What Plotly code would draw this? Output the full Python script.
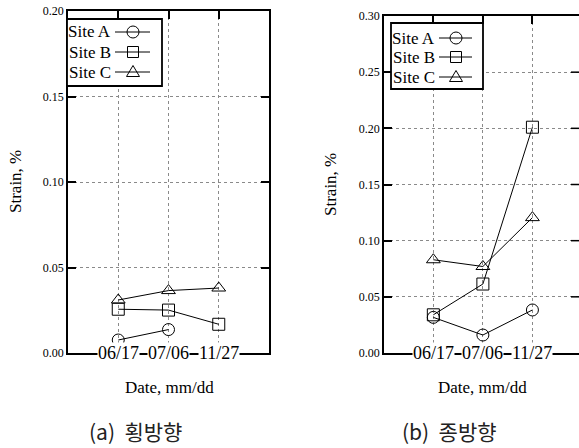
import plotly.graph_objects as go

W, H = 579, 448

dates = ["06/17", "07/06", "11/27"]
sites = ["Site A", "Site B", "Site C"]
symbols = ["circle-open", "square-open", "triangle-up-open"]

# Panel (a) 횡방향 (transverse)
a_site_a = [0.0076, 0.0137, None]
a_site_b = [0.0256, 0.0251, 0.0168]
a_site_c = [0.031, 0.0365, 0.038]

# Panel (b) 종방향 (longitudinal)
b_site_a = [0.0317, 0.0160, 0.0383]
b_site_b = [0.0340, 0.0614, 0.2010]
b_site_c = [0.0830, 0.0770, 0.1205]

a_yticks = [0.00, 0.05, 0.10, 0.15, 0.20]
b_yticks = [0.00, 0.05, 0.10, 0.15, 0.20, 0.25, 0.30]

captions = ["(a)  횡방향", "(b)  종방향"]

SERIF = "Liberation Serif, 'Times New Roman', Times, 'DejaVu Serif', serif"
KR = "'Noto Sans CJK KR', 'Noto Sans CJK SC', sans-serif"


def px(x):
    return x / W


def py(y):
    return (H - y) / H


fig = go.Figure()

panel_a = [a_site_a, a_site_b, a_site_c]
panel_b = [b_site_a, b_site_b, b_site_c]
xpos = list(range(1, len(dates) + 1))

for xa, ya, panel in (("x", "y", panel_a), ("x2", "y2", panel_b)):
    for name, sym, vals in zip(sites, symbols, panel):
        xs = [x for x, v in zip(xpos, vals) if v is not None]
        ys = [v for v in vals if v is not None]
        fig.add_trace(go.Scatter(x=xs, y=ys, mode="lines+markers", name=name,
                                 xaxis=xa, yaxis=ya, showlegend=False,
                                 line=dict(color="black", width=1),
                                 marker=dict(symbol=sym, size=12, color="black",
                                             line=dict(width=1, color="black"))))

ax_common = dict(showline=True, linecolor="black", linewidth=1.5,
                 ticks="inside", ticklen=8, tickwidth=1.5, tickcolor="black",
                 showgrid=True, gridcolor="#8a8a8a", griddash="dot", gridwidth=1,
                 zeroline=False)

ya_dom = [py(353), py(11)]
yb_dom = [py(353), py(16)]

fig.update_layout(
    width=W, height=H, autosize=False,
    margin=dict(l=0, r=0, t=0, b=0, autoexpand=False),
    paper_bgcolor="white", plot_bgcolor="white",
    xaxis=dict(domain=[px(68), px(269)], range=[0, 4], tickvals=xpos,
               showticklabels=False, mirror="ticks", anchor="y", **ax_common),
    yaxis=dict(domain=ya_dom, range=[0, 0.20], tickvals=a_yticks,
               tickformat=".2f", mirror="ticks", anchor="x", automargin=False,
               tickfont=dict(family=SERIF, size=12, color="black"), **ax_common),
    xaxis2=dict(domain=[px(383.8), 1.0], range=[0, 3.94], tickvals=xpos,
                showticklabels=False, mirror="ticks", anchor="y2", **ax_common),
    yaxis2=dict(domain=yb_dom, range=[0, 0.30], tickvals=b_yticks,
                tickformat=".2f", mirror=False, anchor="x2", automargin=False,
                tickfont=dict(family=SERIF, size=12, color="black"), **ax_common),
)

ann = []
# x tick labels sitting on the bottom axis line
for xa, ya in (("x", "y"), ("x2", "y2")):
    for xv, lab in zip(xpos, dates):
        ann.append(dict(x=xv, y=0, xref=xa, yref=ya, text=lab, showarrow=False,
                        bgcolor="white", borderpad=0,
                        font=dict(family=SERIF, size=18, color="black"),
                        xanchor="center", yanchor="middle"))

# axis titles
for xc, yc in ((15, 182), (330, 185)):
    ann.append(dict(x=px(xc), y=py(yc), xref="paper", yref="paper", text="Strain, %",
                    textangle=-90, showarrow=False, xanchor="center", yanchor="middle",
                    font=dict(family=SERIF, size=17, color="black")))
for xc in (169, 482):
    ann.append(dict(x=px(xc), y=py(387), xref="paper", yref="paper", text="Date, mm/dd",
                    showarrow=False, xanchor="center", yanchor="middle",
                    font=dict(family=SERIF, size=17, color="black")))

# captions
for xc, cap in zip((135, 449), captions):
    ann.append(dict(x=px(xc), y=py(431), xref="paper", yref="paper", text=cap,
                    showarrow=False, xanchor="center", yanchor="middle",
                    font=dict(family=KR, size=21, color="#222222")))

shapes = []
# right-side ticks of panel (b) (border falls outside the picture)
for t in b_yticks[1:-1]:
    shapes.append(dict(type="line", xref="paper", yref="y2", x0=px(571), x1=1.0,
                       y0=t, y1=t, line=dict(color="black", width=1.5)))

# custom legends (text left, sample right)
legends = [
    dict(box=(67, 19, 162, 86), text_right=113, line=(115, 150), mark=133,
         rows=(32, 52, 72)),
    dict(box=(391, 23, 483, 89), text_right=437, line=(439, 472), mark=456,
         rows=(38, 57, 77)),
]
for lg in legends:
    x0, y0, x1, y1 = lg["box"]
    shapes.append(dict(type="rect", xref="paper", yref="paper",
                       x0=px(x0), x1=px(x1), y0=py(y1), y1=py(y0),
                       fillcolor="white", line=dict(color="black", width=1.8),
                       layer="above"))
    for name, sym, ry in zip(sites, symbols, lg["rows"]):
        ann.append(dict(x=px(lg["text_right"]), y=py(ry), xref="paper", yref="paper",
                        text=name, showarrow=False, xanchor="right", yanchor="middle",
                        font=dict(family=SERIF, size=17, color="black")))
        lx0, lx1 = lg["line"]
        shapes.append(dict(type="line", xref="paper", yref="paper",
                           x0=px(lx0), x1=px(lx1), y0=py(ry), y1=py(ry),
                           line=dict(color="black", width=1), layer="above"))
        mx, my = px(lg["mark"]), py(ry)
        common = dict(xref="paper", yref="paper", xsizemode="pixel", ysizemode="pixel",
                      xanchor=mx, yanchor=my, line=dict(color="black", width=1),
                      fillcolor="rgba(0,0,0,0)", layer="above")
        if sym.startswith("circle"):
            shapes.append(dict(type="circle", x0=-6, x1=6, y0=-6, y1=6, **common))
        elif sym.startswith("square"):
            shapes.append(dict(type="rect", x0=-5.5, x1=5.5, y0=-5.5, y1=5.5, **common))
        else:
            shapes.append(dict(type="path", path="M -6.5,-4.5 L 6.5,-4.5 L 0,6.5 Z",
                               **common))

fig.update_layout(annotations=ann, shapes=shapes)

fig.write_html("out.html", config={"displayModeBar": False},
               post_script="document.body.style.margin='0';"
                           "document.body.style.overflow='hidden';")
